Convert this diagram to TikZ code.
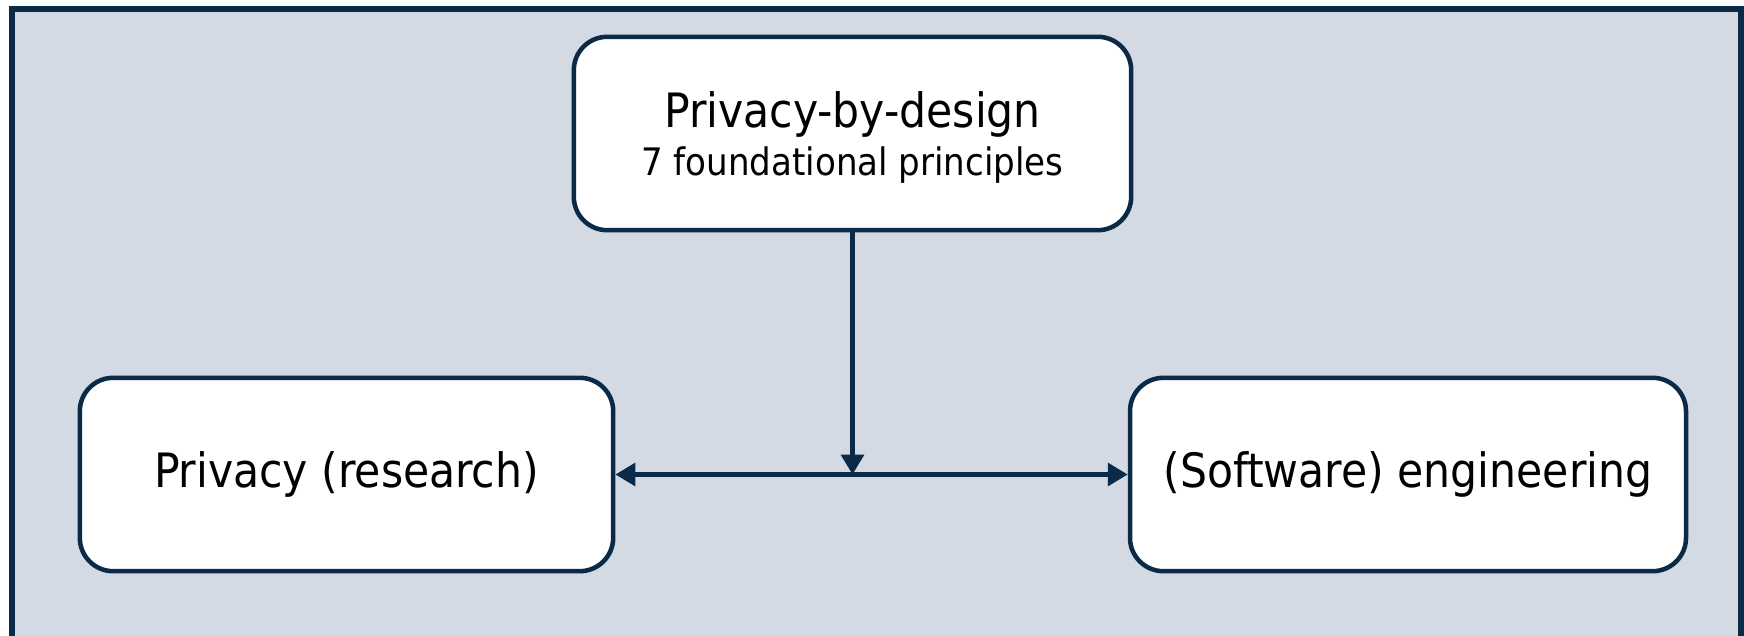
\documentclass[tikz,border=0pt]{standalone}
\usepackage{fontspec}
\setmainfont{DejaVu Sans Condensed}
\usepackage{xcolor}
\usetikzlibrary{arrows.meta,positioning}
\definecolor{navy}{HTML}{0B2A47}
\definecolor{panel}{HTML}{D3DAE4}
\tikzset{topic/.style={rectangle, rounded corners=25pt, draw=navy, line width=3.4pt, fill=white, align=center, inner sep=0pt, font=\fontsize{35.5pt}{36pt}\selectfont},
  link/.style={draw=navy, line width=3.3pt, -{Triangle[length=15pt,width=17pt]}}}

\begin{document}
\begin{tikzpicture}[x=0.75pt,y=-0.75pt]
\useasboundingbox (0,0) rectangle (1744,635);
\draw[draw=navy, fill=panel, line width=5pt] (12,9) rectangle (1741,680);
\node[topic, minimum width=418pt, minimum height=145pt, text height=70.6pt, text depth=7pt] (pbd) at (852.5,133.5)
  {Privacy-by-design\\\fontsize{28.4pt}{36pt}\selectfont 7 foundational principles};
\node[topic, minimum width=400pt, minimum height=145pt] (priv) at (346.5,474.5)
  {Privacy (research)};
\node[topic, minimum width=417pt, minimum height=145pt] (eng) at (1408,474.5)
  {(Software) engineering};
\coordinate (mid) at (pbd.south |- priv.east);
\draw[link, {Triangle[length=15pt,width=17pt]}-{Triangle[length=15pt,width=17pt]}] (priv.east) -- (eng.west);
\draw[link] (pbd.south) -- (mid);
\end{tikzpicture}
\end{document}
